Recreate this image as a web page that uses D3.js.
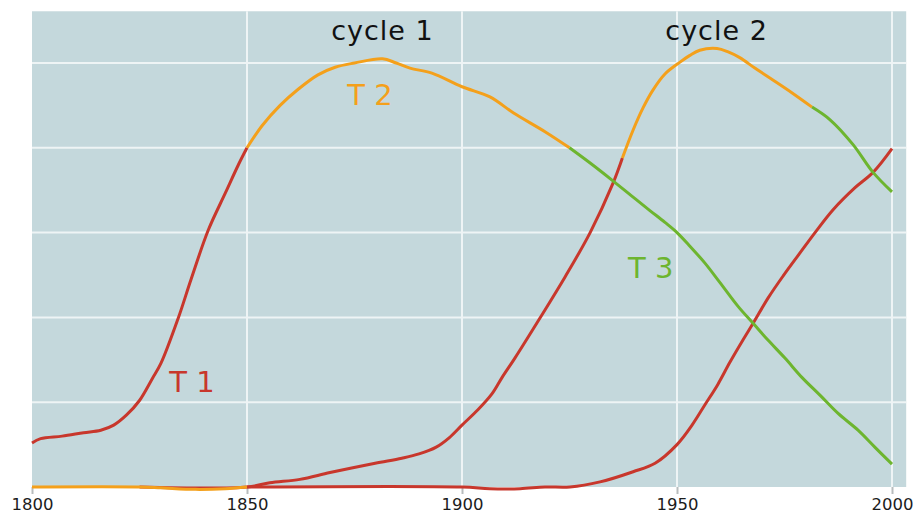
<!DOCTYPE html>
<html><head><meta charset="utf-8">
<script src="https://cdn.jsdelivr.net/npm/d3@7"></script>
<style>
html,body{margin:0;padding:0;background:#fff;}
svg{display:block;}
</style></head>
<body>
<svg id="chart" width="913" height="516"></svg>
<script>
// ---- data (year, value) ----
const xTicks = [1800, 1850, 1900, 1950, 2000];
const yGrid = [1, 2, 3, 4, 5];

const c1T1 = [[1800,0.52],[1802,0.57],[1807,0.60],[1812,0.64],[1816,0.67],[1819,0.73],[1822,0.85],[1825,1.02],[1828,1.28],[1830,1.46],[1834,1.99],[1837,2.45],[1841,3.03],[1845,3.47],[1848,3.80],[1850,4.00]];
const c1T2 = [[1850,4.00],[1853.5,4.26],[1857.7,4.50],[1861.9,4.69],[1866.5,4.86],[1870.5,4.95],[1875,5.00],[1881.5,5.05],[1884.7,5.00],[1887.9,4.94],[1893,4.88],[1900,4.72],[1906.5,4.60],[1912,4.41],[1919.3,4.19],[1925,4.00]];
const c1T3 = [[1925,4.00],[1929.8,3.82],[1935.1,3.61],[1939.5,3.43],[1943.7,3.26],[1947.2,3.12],[1950,3.00],[1953,2.84],[1956.5,2.64],[1960,2.41],[1964.2,2.13],[1967.7,1.93],[1971.2,1.73],[1975.1,1.52],[1979.1,1.29],[1983.3,1.08],[1987.4,0.87],[1992.1,0.67],[1996,0.47],[2000,0.27]];

const c2T1 = [[1825,0],[1850,0],[1855.3,0.05],[1862.3,0.09],[1869.3,0.17],[1879.8,0.28],[1886,0.34],[1890,0.39],[1894,0.47],[1897,0.58],[1900,0.73],[1903.7,0.91],[1907,1.10],[1909.3,1.29],[1912.3,1.52],[1918.1,1.99],[1924,2.48],[1929.8,3.00],[1935.1,3.58],[1937.3,3.88]];
const c2T2 = [[1937.3,3.88],[1939.8,4.21],[1942.1,4.47],[1944.4,4.68],[1947.2,4.87],[1950.7,5.01],[1953,5.09],[1955.3,5.15],[1959.3,5.17],[1961.9,5.13],[1964.7,5.06],[1968.1,4.94],[1972.3,4.80],[1976.7,4.65],[1981.4,4.48]];
const c2T3 = [[1981.4,4.48],[1985.6,4.33],[1990.9,4.04],[1995.6,3.71],[2000,3.48]];

const c3T1 = [[1850,0],[1900,0],[1906.5,-0.02],[1913.5,-0.02],[1919.3,0],[1925.1,0],[1932.1,0.06],[1939.8,0.18],[1944.9,0.28],[1950,0.50],[1953.5,0.73],[1956.5,0.97],[1959.5,1.21],[1962.3,1.47],[1965.3,1.73],[1967.7,1.93],[1971.2,2.23],[1974.7,2.49],[1978.6,2.76],[1982.1,3.00],[1986.3,3.27],[1991.4,3.53],[1995.6,3.71],[2000,3.99]];

const base = [[1800,0],[1825,0],[1830,-0.01],[1838,-0.028],[1845,-0.02],[1850,0]];

const labels = [
  {text:"cycle 1", x:1881.5, y:5.27, cls:"cyc"},
  {text:"cycle 2", x:1959.2, y:5.27, cls:"cyc"},
  {text:"T 2", x:1878.6, y:4.50, cls:"t2"},
  {text:"T 1", x:1837.2, y:1.12, cls:"t1"},
  {text:"T 3", x:1943.9, y:2.46, cls:"t3"}
];

// ---- drawing ----
const RED = "#c8372c", ORANGE = "#f4a01b", GREEN = "#6db52f";
const svg = d3.select("#chart");
const x = d3.scaleLinear().domain([1800, 2000]).range([32, 892]);
const y = d3.scaleLinear().domain([0, 5]).range([487, 63]);
const xMax = 2003.3, yMax = 5.61;

svg.append("rect")
  .attr("x", x(1800)).attr("y", y(yMax))
  .attr("width", x(xMax) - x(1800)).attr("height", y(0) - y(yMax))
  .attr("fill", "#c4d8dc");

// horizontal grid
svg.append("g").selectAll("line").data(yGrid).join("line")
  .attr("x1", x(1800)).attr("x2", x(xMax))
  .attr("y1", d => y(d)).attr("y2", d => y(d))
  .attr("stroke", "#eef4f5").attr("stroke-width", 2);

// vertical grid
svg.append("g").selectAll("line").data(xTicks.slice(1)).join("line")
  .attr("x1", d => x(d)).attr("x2", d => x(d))
  .attr("y1", y(yMax)).attr("y2", y(0))
  .attr("stroke", "#eef4f5").attr("stroke-width", 2);

// x axis
const xAxis = d3.axisBottom(x).tickValues(xTicks).tickFormat(d3.format("d")).tickSize(7).tickPadding(4);
const gx = svg.append("g").attr("transform", `translate(0,${y(0)})`).call(xAxis);
gx.select(".domain").remove();
gx.selectAll(".tick line").attr("stroke", "#b8bcbd").attr("stroke-width", 2);
gx.selectAll(".tick text").attr("fill", "#1c1c1c")
  .style("font-family", "DejaVu Sans").style("font-size", "16.5px");

const line = d3.line().x(d => x(d[0])).y(d => y(d[1])).curve(d3.curveCatmullRom.alpha(0.5));

const series = [
  [c3T1, RED], [c2T1, RED], [base, ORANGE],
  [c1T1, RED], [c1T2, ORANGE], [c1T3, GREEN],
  [c2T2, ORANGE], [c2T3, GREEN]
];
svg.append("g").selectAll("path").data(series).join("path")
  .attr("d", d => line(d[0]))
  .attr("fill", "none").attr("stroke", d => d[1])
  .attr("stroke-width", 3).attr("stroke-linejoin", "round");

const colorOf = {cyc:"#111", t1:RED, t2:ORANGE, t3:GREEN};
svg.append("g").selectAll("text").data(labels).join("text")
  .attr("x", d => x(d.x)).attr("y", d => y(d.y))
  .attr("text-anchor", "middle")
  .attr("fill", d => colorOf[d.cls])
  .style("font-family", "DejaVu Sans")
  .style("font-size", d => d.cls === "cyc" ? "27px" : "29px")
  .style("letter-spacing", d => d.cls === "cyc" ? "1px" : "0px")
  .text(d => d.text);
</script>
</body></html>
